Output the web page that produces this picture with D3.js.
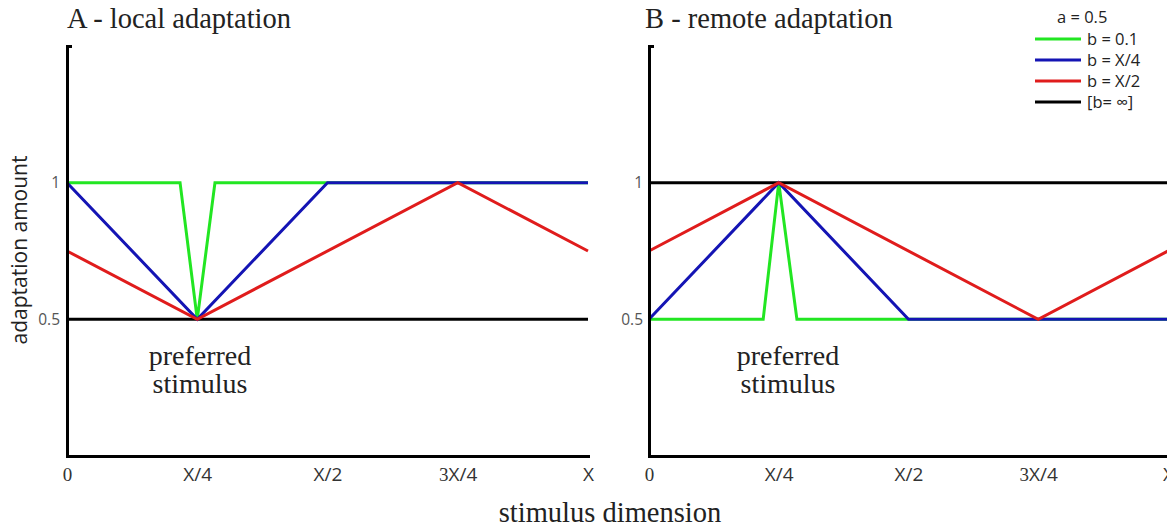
<!DOCTYPE html>
<html>
<head>
<meta charset="utf-8">
<script src="https://cdn.jsdelivr.net/npm/d3@7"></script>
<style>
  html, body { margin: 0; padding: 0; background: #fff; }
  svg { display: block; }
</style>
</head>
<body>
<svg id="chart" width="1167" height="529"></svg>
<script>
// ---- data ----
const xTickValues = [0, 0.25, 0.5, 0.75, 1];
const xTickLabels = ["0", "X/4", "X/2", "3X/4", "X"];
const yTickValues = [0.5, 1];
const yTickLabels = ["0.5", "1"];
const legendTitle = "a = 0.5";
const seriesNames = ["b = 0.1", "b = X/4", "b = X/2", "[b= \u221E]"];
const seriesColors = ["#22e622", "#1414b4", "#e01c1c", "#000000"];

// panel A – local adaptation: [stimulus, adaptation]
const localGreen = [[0, 1], [0.217, 1], [0.25, 0.5], [0.284, 1], [1, 1]];
const localBlue  = [[0, 1], [0.25, 0.5], [0.5, 1], [1, 1]];
const localRed   = [[0, 0.75], [0.25, 0.5], [0.75, 1], [1, 0.75]];
const localBlack = [[0, 0.5], [1, 0.5]];
// panel B – remote adaptation
const remoteGreen = [[0, 0.5], [0.22, 0.5], [0.25, 1], [0.285, 0.5], [1, 0.5]];
const remoteBlue  = [[0, 0.5], [0.25, 1], [0.5, 0.5], [1, 0.5]];
const remoteRed   = [[0, 0.75], [0.25, 1], [0.75, 0.5], [1, 0.75]];
const remoteBlack = [[0, 1], [1, 1]];

const panelTitles = ["A - local adaptation", "B - remote adaptation"];
const annotation = ["preferred", "stimulus"];

// ---- layout ----
const svg = d3.select("#chart");
const serif = "'Liberation Serif', 'Times New Roman', serif";
const sans = "'Open Sans', 'Noto Sans', sans-serif";

const y = d3.scaleLinear().domain([0, 1.5]).range([456, 46]);

const panels = [
  { title: panelTitles[0], left: 67, right: 588, titleX: 67, annX: 200, yLabPad: 7,
    series: [localBlack, localGreen, localBlue, localRed] },
  { title: panelTitles[1], left: 649, right: 1168, titleX: 645, annX: 788, yLabPad: 6,
    series: [remoteBlack, remoteGreen, remoteBlue, remoteRed] }
];
const drawColors = [seriesColors[3], seriesColors[0], seriesColors[1], seriesColors[2]];

panels.forEach(p => {
  const x = d3.scaleLinear().domain([0, 1]).range([p.left, p.right]);
  const g = svg.append("g");

  // lines
  const line = d3.line().x(d => x(d[0])).y(d => y(d[1]));
  p.series.forEach((s, i) => {
    g.append("path")
      .attr("d", line(s))
      .attr("fill", "none")
      .attr("stroke", drawColors[i])
      .attr("stroke-width", 3)
      .attr("stroke-linejoin", "miter");
  });

  // y axis
  const yAxis = d3.axisLeft(y)
    .tickValues(yTickValues)
    .tickFormat((d, i) => yTickLabels[i])
    .tickSizeInner(0)
    .tickSizeOuter(-5)
    .tickPadding(p.yLabPad);
  const ya = g.append("g").attr("transform", `translate(${p.left},0)`).call(yAxis);
  ya.select(".domain").attr("stroke", "#000").attr("stroke-width", 3);
  ya.selectAll(".tick text")
    .attr("font-family", sans).attr("font-size", 15.5).attr("fill", "#555");

  // x axis
  const xAxis = d3.axisBottom(x)
    .tickValues(xTickValues)
    .tickFormat((d, i) => xTickLabels[i])
    .tickSizeInner(0)
    .tickSizeOuter(0);
  const xa = g.append("g").attr("transform", `translate(0,${y(0)})`).call(xAxis);
  xa.select(".domain").attr("stroke", "#000").attr("stroke-width", 3)
    .attr("stroke-linecap", "square");
  xa.selectAll(".tick text").each(function(d, i) {
    const lab = xTickLabels[i];
    const t = d3.select(this).text(null)
      .attr("y", 25).attr("dy", null)
      .attr("font-size", 19).attr("fill", "#333");
    const m = lab.match(/^(\d*)(.*)$/);
    if (m[1]) t.append("tspan").attr("font-family", serif).text(m[1]);
    if (m[2]) t.append("tspan").attr("font-family", sans).attr("font-size", 19).text(m[2]);
  });

  // title
  svg.append("text")
    .attr("x", p.titleX).attr("y", 28)
    .attr("font-family", serif).attr("font-size", 28.5).attr("fill", "#222")
    .text(p.title);

  // annotation
  annotation.forEach((t, i) => {
    svg.append("text")
      .attr("x", p.annX).attr("y", 365 + i * 28)
      .attr("text-anchor", "middle")
      .attr("font-family", serif).attr("font-size", 28).attr("fill", "#222")
      .text(t);
  });
});

// axis titles
svg.append("text")
  .attr("x", 610).attr("y", 522)
  .attr("text-anchor", "middle")
  .attr("font-family", serif).attr("font-size", 28.5).attr("fill", "#222")
  .text("stimulus dimension");

svg.append("text")
  .attr("transform", "translate(27,250) rotate(-90)")
  .attr("text-anchor", "middle")
  .attr("font-family", sans).attr("font-size", 21).attr("fill", "#222")
  .text("adaptation amount");

// legend
const lg = svg.append("g");
lg.append("text")
  .attr("x", 1057).attr("y", 17).attr("dy", "0.35em")
  .attr("font-family", sans).attr("font-size", 16.5).attr("fill", "#222")
  .text(legendTitle);
seriesNames.forEach((n, i) => {
  const yy = 39 + i * 21;
  lg.append("line")
    .attr("x1", 1035).attr("x2", 1081).attr("y1", yy).attr("y2", yy)
    .attr("stroke", seriesColors[i]).attr("stroke-width", 3);
  lg.append("text")
    .attr("x", 1087).attr("y", yy).attr("dy", "0.35em")
    .attr("font-family", sans).attr("font-size", 16.5).attr("fill", "#222")
    .text(n);
});
</script>
</body>
</html>
